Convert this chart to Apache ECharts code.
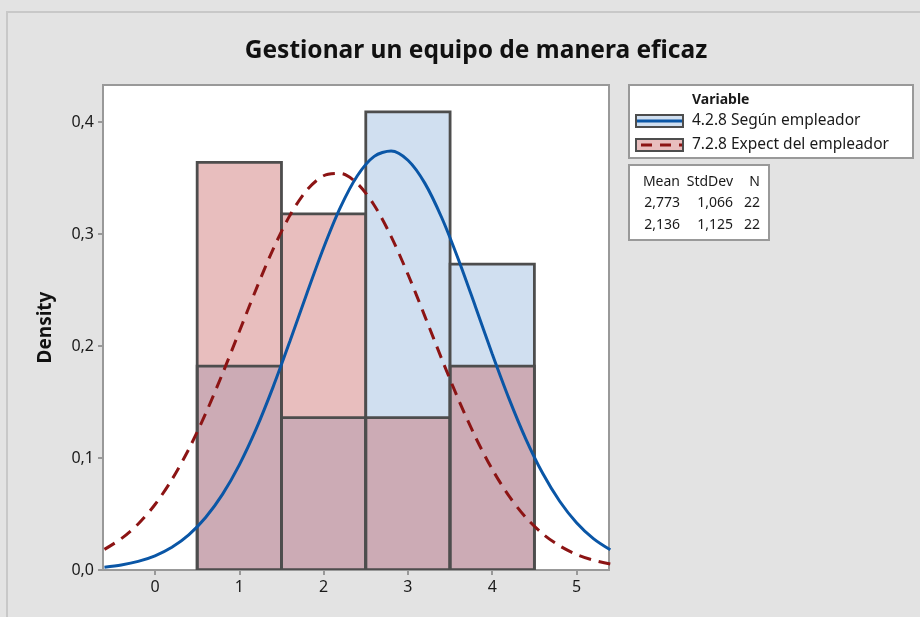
<!DOCTYPE html>
<html>
<head>
<meta charset="utf-8">
<script src="https://cdn.jsdelivr.net/npm/echarts@6/dist/echarts.min.js"></script>
<style>
  html, body { margin: 0; padding: 0; background: #e3e3e3; }
  #chart { width: 920px; height: 617px; }
</style>
</head>
<body>
<div id="chart"></div>
<script>
// Histogram bins (centre of each bin, width 1)
const binCenters = [1, 2, 3, 4];
const blueDensity = [0.182, 0.136, 0.409, 0.273];   // 4.2.8 Según empleador
const redDensity = [0.364, 0.318, 0.136, 0.182];    // 7.2.8 Expect del empleador

// Fitted normal curves
const curveX = [-0.6, -0.4, -0.2, 0, 0.2, 0.4, 0.6, 0.8, 1.0, 1.2, 1.4, 1.6, 1.8, 2.0, 2.2, 2.4,
  2.6, 2.8, 3.0, 3.2, 3.4, 3.6, 3.8, 4.0, 4.2, 4.4, 4.6, 4.8, 5.0, 5.2, 5.4];
const blueCurve = [0.0025, 0.0045, 0.0077, 0.0127, 0.0203, 0.0314, 0.0469, 0.0675, 0.0939, 0.126,
  0.1633, 0.2042, 0.2467, 0.2877, 0.3239, 0.352, 0.3693, 0.3741, 0.3658, 0.3454, 0.3147, 0.277,
  0.2353, 0.1929, 0.1528, 0.1167, 0.0861, 0.0614, 0.0422, 0.028, 0.018];
const redCurve = [0.0184, 0.028, 0.0411, 0.0585, 0.0807, 0.1078, 0.1396, 0.1752, 0.2129, 0.2508,
  0.2863, 0.3166, 0.3391, 0.352, 0.354, 0.345, 0.3257, 0.2979, 0.264, 0.2267, 0.1886, 0.1521,
  0.1188, 0.0899, 0.0659, 0.0468, 0.0322, 0.0215, 0.0139, 0.0087, 0.0053];

const xTicks = [0, 1, 2, 3, 4, 5];
const yTicks = [0, 0.1, 0.2, 0.3, 0.4];

const seriesNames = ['4.2.8 Según empleador', '7.2.8 Expect del empleador'];
const statsHeader = ['Mean', 'StdDev', 'N'];
const statsRows = [['2,773', '1,066', '22'], ['2,136', '1,125', '22']];

const blueFill = '#d0dff0';
const redFill = 'rgba(198,94,94,0.404)';
const redSwatch = '#e8bebe';
const barEdge = '#4d4d4d';
const blueLine = '#0a56a6';
const redLine = '#8c1414';
const font = 'Noto Sans';

const chart = echarts.init(document.getElementById('chart'));

const binData = binCenters.map((c, i) => [c, blueDensity[i], redDensity[i]]);

function renderBins(params, api) {
  const c = api.value(0);
  const tl1 = api.coord([c - 0.5, api.value(1)]);
  const tl2 = api.coord([c - 0.5, api.value(2)]);
  const br = api.coord([c + 0.5, 0]);
  const r1 = { x: tl1[0], y: tl1[1], width: br[0] - tl1[0], height: br[1] - tl1[1] };
  const r2 = { x: tl2[0], y: tl2[1], width: br[0] - tl2[0], height: br[1] - tl2[1] };
  return {
    type: 'group',
    children: [
      { type: 'rect', shape: r1, style: { fill: blueFill } },
      { type: 'rect', shape: r2, style: { fill: redFill } },
      { type: 'rect', shape: r1, style: { fill: 'none', stroke: barEdge, lineWidth: 2.8 } },
      { type: 'rect', shape: r2, style: { fill: 'none', stroke: barEdge, lineWidth: 2.8 } }
    ]
  };
}

// legend and stats table drawn as graphics
const legendX = 629, legendY = 85;
const graphics = [
  { type: 'rect', shape: { x: 7, y: 12, width: 930, height: 620 },
    style: { fill: 'none', stroke: '#c8c8c8', lineWidth: 2 }, z: -1 },
  { type: 'rect', shape: { x: legendX, y: legendY, width: 284, height: 73 },
    style: { fill: '#fff', stroke: '#999', lineWidth: 2 } },
  { type: 'text', x: 692, y: 100, style: { text: 'Variable', font: 'bold 14px ' + font,
    fill: '#1a1a1a', verticalAlign: 'middle' } }
];
seriesNames.forEach((name, i) => {
  const y = 121 + i * 24;
  graphics.push({ type: 'rect', shape: { x: 636, y: y - 6, width: 47, height: 12 },
    style: { fill: i === 0 ? blueFill : redSwatch, stroke: barEdge, lineWidth: 2 } });
  graphics.push({ type: 'line', shape: { x1: 637, y1: y, x2: 682, y2: y },
    style: { stroke: i === 0 ? blueLine : redLine, lineWidth: 3,
      lineDash: i === 0 ? null : [11, 8], lineDashOffset: -4 } });
  graphics.push({ type: 'text', x: 692, y: y, style: { text: name, font: '15.5px ' + font,
    fill: '#1a1a1a', verticalAlign: 'middle' } });
});
graphics.push({ type: 'rect', shape: { x: 629, y: 165, width: 140, height: 75 },
  style: { fill: '#fff', stroke: '#999', lineWidth: 2 } });
const colRight = [680, 733, 760];
[statsHeader].concat(statsRows).forEach((row, r) => {
  row.forEach((cell, k) => {
    graphics.push({ type: 'text', x: colRight[k], y: 182 + r * 21.5,
      style: { text: cell, font: '14px ' + font, fill: '#1a1a1a',
        align: 'right', verticalAlign: 'middle' } });
  });
});

const fmt = v => v.toFixed(1).replace('.', ',');

chart.setOption({
  backgroundColor: '#e3e3e3',
  animation: false,
  title: {
    text: 'Gestionar un equipo de manera eficaz',
    left: 471, top: 34, textAlign: 'center',
    textStyle: { fontFamily: font, fontSize: 24.5, fontWeight: 'bold', color: '#111' }
  },
  grid: {
    left: 103, top: 85, width: 506, height: 485,
    show: true, backgroundColor: '#fff', borderColor: '#999', borderWidth: 2
  },
  xAxis: {
    type: 'value', min: -0.617, max: 5.385,
    axisLine: { show: false, onZero: false },
    splitLine: { show: false },
    axisTick: { show: true, length: 5, customValues: xTicks, lineStyle: { color: '#999', width: 2 } },
    axisLabel: { customValues: xTicks, margin: 9, fontFamily: font, fontSize: 16, color: '#1a1a1a' }
  },
  yAxis: {
    type: 'value', min: 0, max: 0.433,
    name: 'Density', nameLocation: 'middle', nameGap: 48, nameRotate: 90,
    nameTextStyle: { fontFamily: font, fontSize: 19, fontWeight: 'bold', color: '#111' },
    axisLine: { show: false, onZero: false },
    splitLine: { show: false },
    axisTick: { show: true, length: 5, customValues: yTicks, lineStyle: { color: '#999', width: 2 } },
    axisLabel: { customValues: yTicks, margin: 9, formatter: fmt,
      fontFamily: font, fontSize: 16, color: '#1a1a1a' }
  },
  series: [
    { type: 'custom', renderItem: renderBins, data: binData, z: 2,
      encode: { x: 0, y: [1, 2] }, clip: true },
    { type: 'line', name: seriesNames[0], data: curveX.map((x, i) => [x, blueCurve[i]]),
      smooth: 0.3, showSymbol: false, z: 4, clip: true,
      lineStyle: { color: blueLine, width: 3 } },
    { type: 'line', name: seriesNames[1], data: curveX.map((x, i) => [x, redCurve[i]]),
      smooth: 0.3, showSymbol: false, z: 5, clip: true,
      lineStyle: { color: redLine, width: 3, type: [12, 8] } }
  ],
  graphic: graphics
});
</script>
</body>
</html>
